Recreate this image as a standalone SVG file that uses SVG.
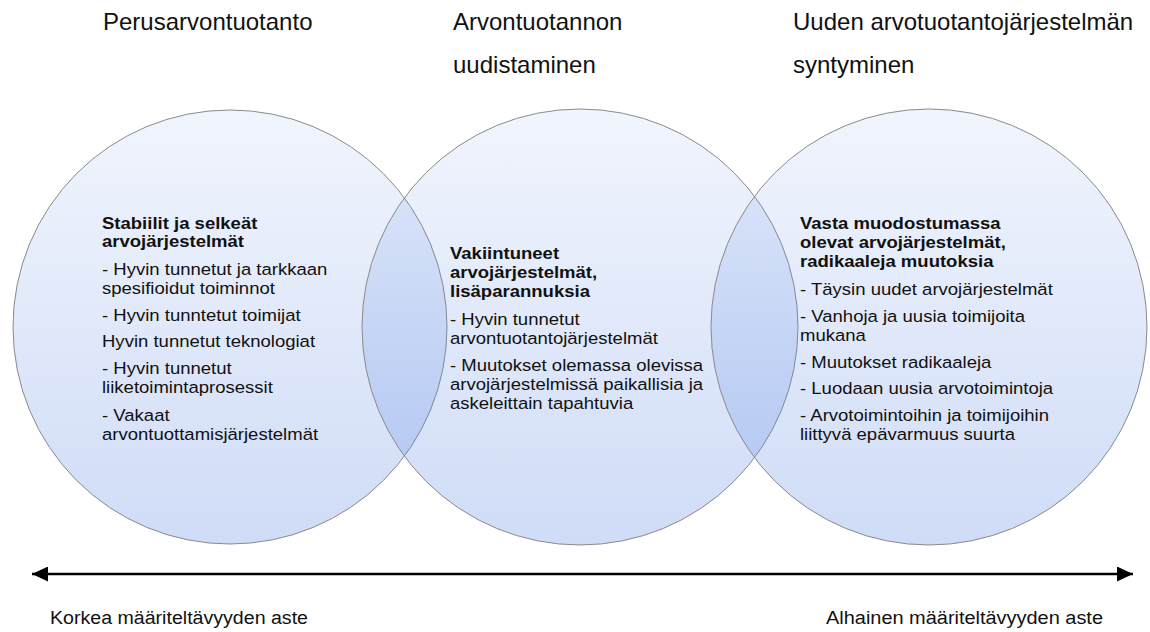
<svg xmlns="http://www.w3.org/2000/svg" width="1150" height="632" viewBox="0 0 1150 632">
  <defs>
    <linearGradient id="cg" x1="0" y1="0" x2="0" y2="1">
      <stop offset="0" stop-color="#4f7ee2" stop-opacity="0.08"/>
      <stop offset="1" stop-color="#4f7ee2" stop-opacity="0.27"/>
    </linearGradient>
    <marker id="ah" viewBox="0 0 16 15" refX="16" refY="7.5" markerWidth="16" markerHeight="15" markerUnits="userSpaceOnUse" orient="auto-start-reverse">
      <path d="M0,0 L16,7.5 L0,15 Z" fill="#000"/>
    </marker>
    <style>
      .circ { fill: url(#cg); stroke: #8a8a8a; stroke-width: 1; }
      .body { font-family: "Liberation Sans", Arial, sans-serif; font-size: 17px; fill: #111; }
      .bold { font-weight: bold; }
      .hdr { font-family: "Liberation Sans", Arial, sans-serif; font-size: 24px; fill: #111; }
      .lbl { font-family: "Liberation Sans", Arial, sans-serif; font-size: 18px; fill: #111; }
      .conn { stroke: #000; stroke-width: 2.5; fill: none; }
    </style>
  </defs>
  <rect x="0" y="0" width="1150" height="632" fill="#fff"/>

  <g id="headers">
    <text class="hdr" x="103" y="30">Perusarvontuotanto</text>
    <text class="hdr" x="453" y="30">Arvontuotannon</text>
    <text class="hdr" x="453" y="73">uudistaminen</text>
    <text class="hdr" x="793" y="30">Uuden arvotuotantojärjestelmän</text>
    <text class="hdr" x="793" y="73">syntyminen</text>
  </g>

  <g id="node-left">
    <circle class="circ" cx="230" cy="327" r="217"/>
    <g transform="translate(-9.18,0) scale(1.09,1)">
      <text class="body bold" x="102" y="229">Stabiilit ja selkeät</text>
      <text class="body bold" x="102" y="247">arvojärjestelmät</text>
      <text class="body" x="102" y="275">- Hyvin tunnetut ja tarkkaan</text>
      <text class="body" x="102" y="294">spesifioidut toiminnot</text>
      <text class="body" x="102" y="321">- Hyvin tunntetut toimijat</text>
      <text class="body" x="102" y="347">Hyvin tunnetut teknologiat</text>
      <text class="body" x="102" y="374">- Hyvin tunnetut</text>
      <text class="body" x="102" y="393">liiketoimintaprosessit</text>
      <text class="body" x="102" y="421">- Vakaat</text>
      <text class="body" x="102" y="440">arvontuottamisjärjestelmät</text>
    </g>
  </g>

  <g id="node-middle">
    <circle class="circ" cx="580" cy="327" r="218"/>
    <g transform="translate(-40.5,0) scale(1.09,1)">
      <text class="body bold" x="450" y="259">Vakiintuneet</text>
      <text class="body bold" x="450" y="278">arvojärjestelmät,</text>
      <text class="body bold" x="450" y="297">lisäparannuksia</text>
      <text class="body" x="450" y="325">- Hyvin tunnetut</text>
      <text class="body" x="450" y="344">arvontuotantojärjestelmät</text>
      <text class="body" x="450" y="371">- Muutokset olemassa olevissa</text>
      <text class="body" x="450" y="390">arvojärjestelmissä paikallisia ja</text>
      <text class="body" x="450" y="409">askeleittain tapahtuvia</text>
    </g>
  </g>

  <g id="node-right">
    <circle class="circ" cx="929" cy="327" r="218"/>
    <g transform="translate(-72,0) scale(1.09,1)">
      <text class="body bold" x="800" y="229">Vasta muodostumassa</text>
      <text class="body bold" x="800" y="248">olevat arvojärjestelmät,</text>
      <text class="body bold" x="800" y="267">radikaaleja muutoksia</text>
      <text class="body" x="800" y="295">- Täysin uudet arvojärjestelmät</text>
      <text class="body" x="800" y="322">- Vanhoja ja uusia toimijoita</text>
      <text class="body" x="800" y="341">mukana</text>
      <text class="body" x="800" y="368">- Muutokset radikaaleja</text>
      <text class="body" x="800" y="394">- Luodaan uusia arvotoimintoja</text>
      <text class="body" x="800" y="421">- Arvotoimintoihin ja toimijoihin</text>
      <text class="body" x="800" y="440">liittyvä epävarmuus suurta</text>
    </g>
  </g>

  <g id="connectors">
    <line class="conn" x1="32" y1="574" x2="1133" y2="574" marker-start="url(#ah)" marker-end="url(#ah)"/>
  </g>

  <g id="axis-labels">
    <text class="lbl" x="50" y="624" textLength="258" lengthAdjust="spacingAndGlyphs">Korkea määriteltävyyden aste</text>
    <text class="lbl" x="826" y="624" textLength="277" lengthAdjust="spacingAndGlyphs">Alhainen määriteltävyyden aste</text>
  </g>
</svg>
